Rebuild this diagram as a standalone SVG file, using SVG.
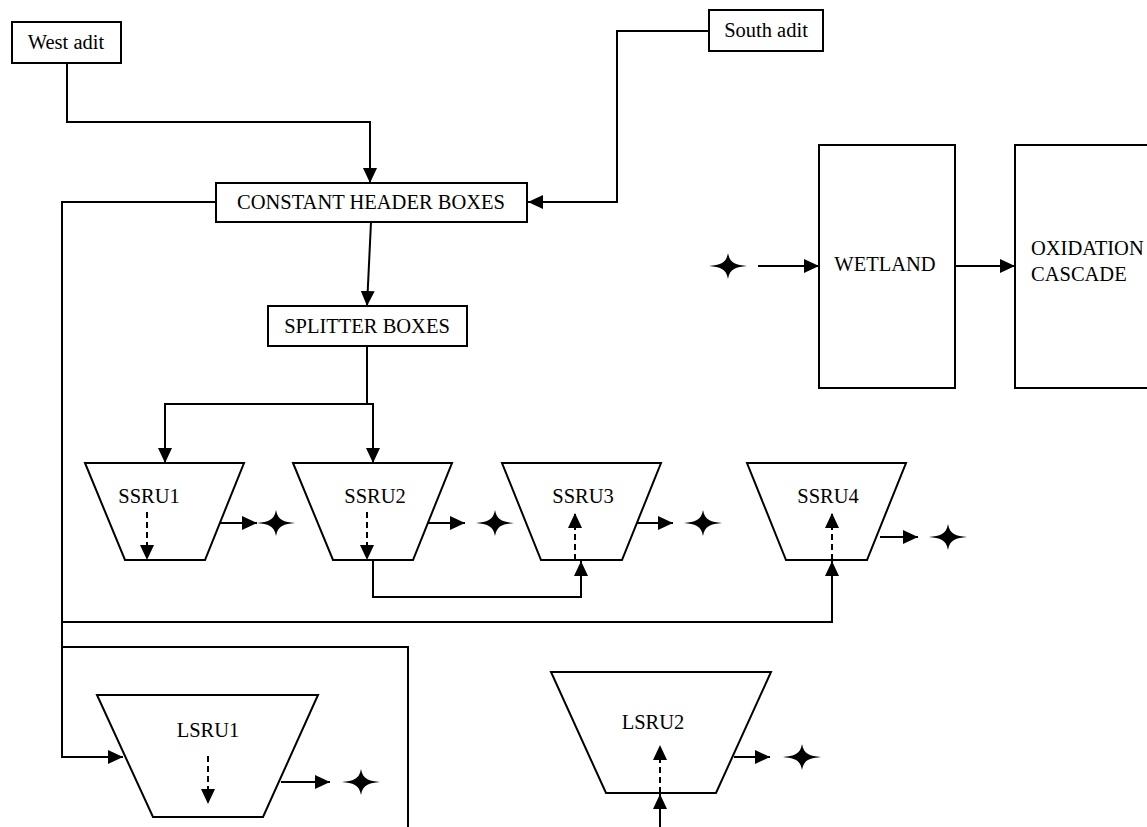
<svg xmlns="http://www.w3.org/2000/svg" width="1147" height="827" viewBox="0 0 1147 827" font-family="'Liberation Serif', 'DejaVu Serif', serif">
<style>
.box{fill:#fff;stroke:#000;stroke-width:2}
.shape{fill:#fff;stroke:#000;stroke-width:2}
.t{font-family:'Liberation Serif','DejaVu Serif',serif;font-size:20.5px;fill:#000}
.c{text-anchor:middle}
.ln{fill:none;stroke:#000;stroke-width:2}
.ar{marker-end:url(#ah)}
.ds{stroke-dasharray:6,4}
.star{fill:#000;stroke:none}
</style>
<defs>
<marker id="ah" markerUnits="userSpaceOnUse" markerWidth="16" markerHeight="16" viewBox="0 0 16 16" refX="15" refY="8" orient="auto">
<path d="M0,1 L15,8 L0,15 Z" fill="#000"/>
</marker>
<path id="st" d="M-19,0 C-8,-1.5 -2,-2 0,-13 C2,-2 8,-1.5 19,0 C8,1.5 2,2 0,13 C-2,2 -8,1.5 -19,0 Z"/>
</defs>
<rect width="1147" height="827" fill="#fff"/>

<g id="connectors">
<path class="ln ar" d="M67,63 V122 H370 V183"/>
<path class="ln ar" d="M709,31 H617 V202 H528"/>
<path class="ln ar" d="M371,222 L367,306"/>
<path class="ln ar" d="M367,346 V404 H165 V463"/>
<path class="ln ar" d="M367,404 H373 V463"/>
<path class="ln" d="M216,202 H62 V757"/>
<path class="ln" d="M62,622 H832 V575"/>
<path class="ln" d="M62,647 H408 V827"/>
<path class="ln" d="M373,560 V597 H581 V575"/>
<path class="ln ar" d="M758,266 H819"/>
<path class="ln ar" d="M955,266 H1015"/>
<path class="ln ar" d="M880,537 H918"/>
</g>

<g id="outlets">
<use href="#st" class="star" x="276" y="523"/>
<use href="#st" class="star" x="495" y="523"/>
<use href="#st" class="star" x="703" y="523"/>
<use href="#st" class="star" x="948" y="537"/>
<use href="#st" class="star" x="361" y="782"/>
<use href="#st" class="star" x="802" y="757"/>
<use href="#st" class="star" x="728" y="266"/>
</g>

<g id="west-adit">
<rect class="box" x="12" y="22" width="109" height="41"/>
<text class="t c" x="66" y="49">West adit</text>
</g>
<g id="south-adit">
<rect class="box" x="709" y="10" width="114" height="41"/>
<text class="t c" x="766" y="37">South adit</text>
</g>
<g id="constant-header">
<rect class="box" x="216" y="183" width="311" height="39"/>
<text class="t c" x="371" y="209">CONSTANT HEADER BOXES</text>
</g>
<g id="splitter">
<rect class="box" x="268" y="306" width="199" height="40"/>
<text class="t c" x="367" y="333">SPLITTER BOXES</text>
</g>
<g id="wetland">
<rect class="box" x="819" y="145" width="136" height="243"/>
<text class="t c" x="885" y="271">WETLAND</text>
</g>
<g id="oxidation">
<rect class="box" x="1015" y="145" width="140" height="243"/>
<text class="t" x="1031" y="255">OXIDATION</text>
<text class="t" x="1031" y="281">CASCADE</text>
</g>
<g id="ssru1">
<path class="shape" d="M85,463 H244 L205,560 H125 Z"/>
<text class="t c" x="149" y="503">SSRU1</text>
</g>
<g id="ssru2">
<path class="shape" d="M293,463 H452 L413,560 H333 Z"/>
<text class="t c" x="375" y="503">SSRU2</text>
</g>
<g id="ssru3">
<path class="shape" d="M502,463 H661 L622,560 H541 Z"/>
<text class="t c" x="583" y="503">SSRU3</text>
</g>
<g id="ssru4">
<path class="shape" d="M747,463 H906 L867,560 H786 Z"/>
<text class="t c" x="828" y="503">SSRU4</text>
</g>
<g id="lsru1">
<path class="shape" d="M97,695 H318 L263,817 H153 Z"/>
<text class="t c" x="208" y="737">LSRU1</text>
</g>
<g id="lsru2">
<path class="shape" d="M551,672 H771 L716,793 H606 Z"/>
<text class="t c" x="653" y="729">LSRU2</text>
</g>
<g id="unit-connectors">
<path class="ln ar ds" d="M147,512 V560"/>
<path class="ln ar ds" d="M367,512 V560"/>
<path class="ln ar ds" d="M575,560 V513"/>
<path class="ln ar ds" d="M832,560 V513"/>
<path class="ln ar ds" d="M208,756 V804"/>
<path class="ln ar ds" d="M660,793 V745"/>
<path class="ln ar" d="M220,523 H257"/>
<path class="ln ar" d="M428,523 H465"/>
<path class="ln ar" d="M637,523 H673"/>
<path class="ln ar" d="M281,782 H330"/>
<path class="ln ar" d="M734,757 H770"/>
<path class="ln ar" d="M61,757 H123"/>
<path class="ln ar" d="M832,576 V561"/>
<path class="ln ar" d="M581,576 V561"/>
<path class="ln ar" d="M660,827 V794"/>
</g>
</svg>
